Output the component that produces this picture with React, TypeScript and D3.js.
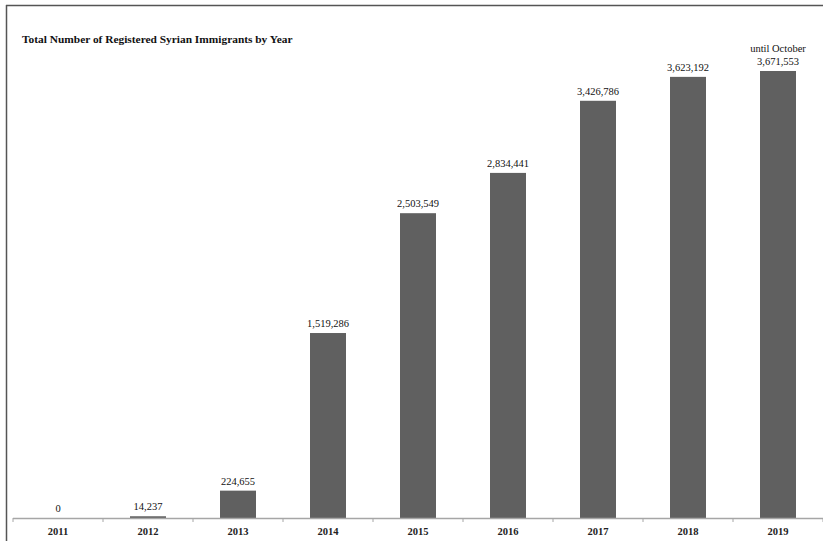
import React from "react";
import * as d3 from "d3";

const years = ["2011", "2012", "2013", "2014", "2015", "2016", "2017", "2018", "2019"];
const values = [0, 14237, 224655, 1519286, 2503549, 2834441, 3426786, 3623192, 3671553];
const notes = ["", "", "", "", "", "", "", "", "until October"];
const title = "Total Number of Registered Syrian Immigrants by Year";

export default function App() {
  const W = 823, H = 541;
  const x = d3.scaleBand<string>().domain(years).range([13, 823]).paddingInner(0).paddingOuter(0);
  const y = d3.scaleLinear().domain([0, 4000000]).range([518, 31]);
  const bw = x.bandwidth() * 0.4;
  const fmt = d3.format(",");
  const serif = "'Liberation Serif', 'Times New Roman', serif";
  const ticks = years.map((_, i) => 13 + i * x.bandwidth()).concat([823]);
  return (
    <div style={{ position: "absolute", left: 0, top: 0 }}>
      <svg width={W} height={H} style={{ display: "block", background: "#fff" }}>
        <line x1={6.5} y1={5} x2={6.5} y2={H} stroke="#555" strokeWidth={1.5} />
        <line x1={6} y1={5.5} x2={W} y2={5.5} stroke="#555" strokeWidth={1.5} />
        <text x={22} y={43} fontFamily={serif} fontWeight="bold" fontSize={11.4} fill="#111">{title}</text>
        {years.map((yr, i) => {
          const cx = (x(yr) as number) + x.bandwidth() / 2;
          const top = y(values[i]);
          return (
            <g key={yr}>
              {values[i] > 0 && (
                <rect x={cx - bw / 2} y={top} width={bw} height={y(0) - top} fill="#606060" />
              )}
              <text x={cx} y={top - 6} textAnchor="middle" fontFamily={serif} fontSize={10.5} fill="#111">{fmt(values[i])}</text>
              {notes[i] && (
                <text x={cx} y={top - 19} textAnchor="middle" fontFamily={serif} fontSize={10.5} fill="#111">{notes[i]}</text>
              )}
              <text x={cx} y={535} textAnchor="middle" fontFamily={serif} fontWeight="bold" fontSize={10.5} fill="#222">{yr}</text>
            </g>
          );
        })}
        <line x1={13} y1={518.5} x2={W} y2={518.5} stroke="#a6a6a6" strokeWidth={1.5} />
        {ticks.map((t, i) => (
          <line key={i} x1={t} y1={518} x2={t} y2={522} stroke="#a6a6a6" strokeWidth={1} />
        ))}
      </svg>
    </div>
  );
}
